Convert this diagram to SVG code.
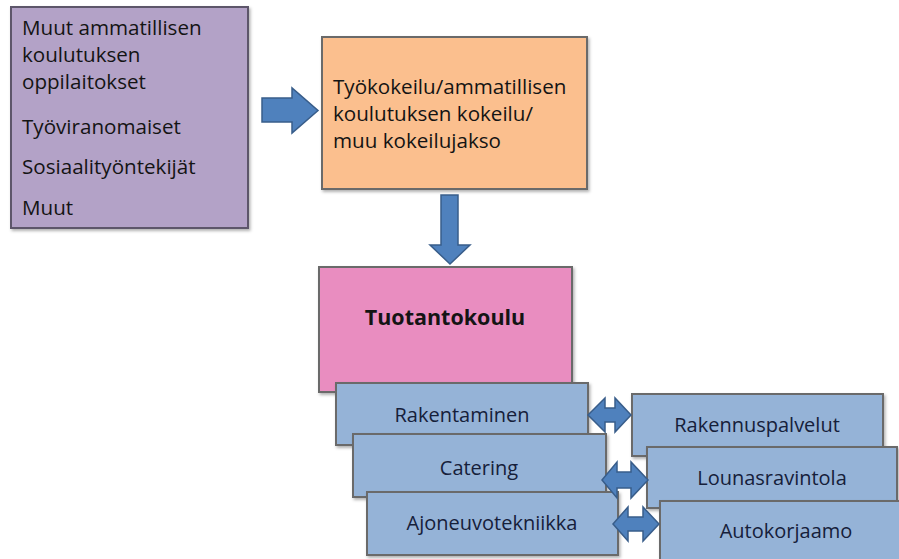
<svg xmlns="http://www.w3.org/2000/svg" width="899" height="559" viewBox="0 0 899 559">
<style>
  text { font-family: "Open Sans", "Liberation Sans", Arial, sans-serif; font-size: 20.6px; fill: #141414; }
  .box { stroke: #6b6b6b; stroke-width: 2; filter: url(#sh); }
  .purple { fill: #B3A2C7; stroke: #5d566b; }
  .orange { fill: #FBBF8E; }
  .pink { fill: #E98DC0; }
  .blue { fill: #95B3D7; }
  .c { text-anchor: middle; }
  .bt { fill: #16203a; font-size: 20px; }
  .arrow { fill: #4F81BD; stroke: #385D8A; stroke-width: 1.5; stroke-linejoin: miter; }
</style>
<defs>
  <filter id="sh" x="-5%" y="-5%" width="115%" height="120%">
    <feDropShadow dx="1.5" dy="2" stdDeviation="1.5" flood-color="#000" flood-opacity="0.3"/>
  </filter>
</defs>
<rect width="899" height="559" fill="#ffffff"/>

<g id="sources">
  <rect class="box purple" x="11" y="7" width="237" height="221"/>
  <text x="22" y="35">Muut ammatillisen</text>
  <text x="22" y="62">koulutuksen</text>
  <text x="22" y="89">oppilaitokset</text>
  <text x="22" y="134">Työviranomaiset</text>
  <text x="22" y="174">Sosiaalityöntekijät</text>
  <text x="22" y="215">Muut</text>
</g>

<g id="kokeilu">
  <rect class="box orange" x="322" y="37" width="265" height="152"/>
  <text x="333" y="94">Työkokeilu/ammatillisen</text>
  <text x="333" y="121">koulutuksen kokeilu/</text>
  <text x="333" y="148">muu kokeilujakso</text>
</g>

<g id="tuotantokoulu">
  <rect class="box pink" x="319" y="267" width="253" height="125"/>
  <text class="c" x="445" y="325" style="font-weight:bold;font-size:21.5px">Tuotantokoulu</text>
</g>

<g id="rakentaminen">
  <rect class="box blue" x="336" y="383" width="252" height="62"/>
  <text class="c bt" x="462" y="422">Rakentaminen</text>
</g>
<g id="catering">
  <rect class="box blue" x="353" y="434" width="253" height="63"/>
  <text class="c bt" x="479" y="475">Catering</text>
</g>
<g id="ajoneuvotekniikka">
  <rect class="box blue" x="367" y="492" width="251" height="63"/>
  <text class="c bt" x="492" y="530">Ajoneuvotekniikka</text>
</g>

<g id="rakennuspalvelut">
  <rect class="box blue" x="632" y="394" width="251" height="62"/>
  <text class="c bt" x="757" y="432">Rakennuspalvelut</text>
</g>
<g id="lounasravintola">
  <rect class="box blue" x="647" y="447" width="250" height="61"/>
  <text class="c bt" x="772" y="485">Lounasravintola</text>
</g>
<g id="autokorjaamo">
  <rect class="box blue" x="660" y="501" width="251" height="63"/>
  <text class="c bt" x="786" y="538">Autokorjaamo</text>
</g>

<g id="connectors">
  <path class="arrow" d="M262,98 H292 V88 L318,110.5 L292,133 V122 H262 Z"/>
  <path class="arrow" d="M441,195 H458 V245 H470 L450,264 L430,245 H441 Z"/>
  <path class="arrow" d="M588,415 L605,398 V408 H615 V398 L631,415 L615,432 V422 H605 V432 Z"/>
  <path class="arrow" d="M602,480 L617,462 V472 H631 V462 L648,480 L631,498 V488 H617 V498 Z"/>
  <path class="arrow" d="M613,524 L628,507 V517 H643 V507 L659,524 L643,541 V531 H628 V541 Z"/>
</g>
</svg>
